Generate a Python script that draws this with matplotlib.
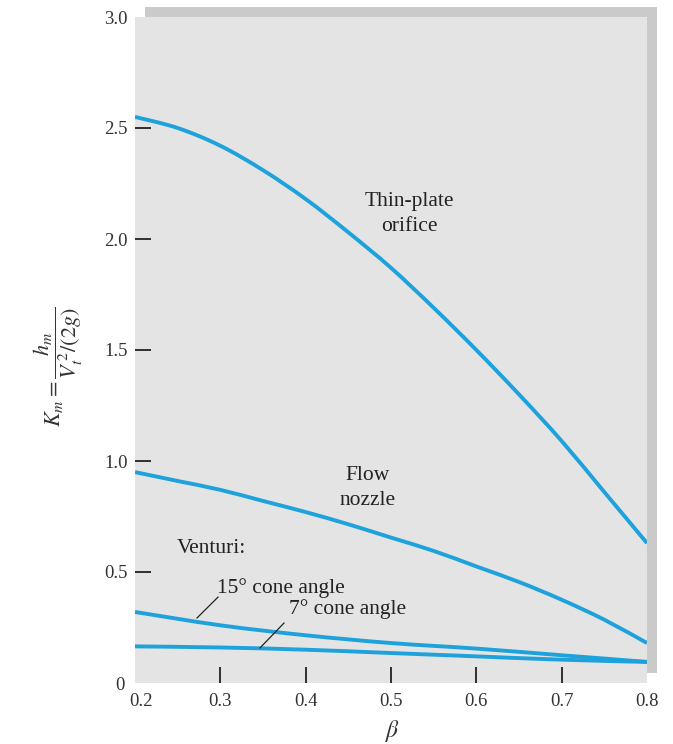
import matplotlib
matplotlib.use("Agg")
import matplotlib.pyplot as plt
import matplotlib.transforms as mtransforms
from matplotlib.patches import Rectangle, PathPatch
from matplotlib.path import Path

plt.rcParams['font.family'] = ['Liberation Serif', 'DejaVu Serif']
plt.rcParams['mathtext.fontset'] = 'stix'

beta_fine = [0.2, 0.25, 0.3, 0.35, 0.4, 0.45, 0.5, 0.55, 0.6, 0.65, 0.7, 0.75, 0.8]
thin_plate = [2.55, 2.50, 2.42, 2.31, 2.18, 2.03, 1.87, 1.69, 1.50, 1.30, 1.09, 0.86, 0.63]
flow_nozzle = [0.95, 0.91, 0.87, 0.82, 0.77, 0.715, 0.655, 0.595, 0.525, 0.455, 0.375, 0.285, 0.18]
beta_coarse = [0.2, 0.3, 0.4, 0.5, 0.6, 0.7, 0.8]
venturi_15 = [0.32, 0.26, 0.215, 0.18, 0.155, 0.125, 0.095]
venturi_7 = [0.165, 0.16, 0.15, 0.135, 0.12, 0.105, 0.095]

xticks = [0.2, 0.3, 0.4, 0.5, 0.6, 0.7, 0.8]
xticklabels = ['0.2', '0.3', '0.4', '0.5', '0.6', '0.7', '0.8']
yticks = [0, 0.5, 1.0, 1.5, 2.0, 2.5, 3.0]
yticklabels = ['0', '0.5', '1.0', '1.5', '2.0', '2.5', '3.0']


def smooth_path(xs, ys):
    """Catmull-Rom spline through the data points, as cubic Bezier path."""
    pts = list(zip(xs, ys))
    n = len(pts)
    verts = [pts[0]]
    codes = [Path.MOVETO]
    for i in range(n - 1):
        p0 = pts[i - 1] if i > 0 else pts[i]
        p1 = pts[i]
        p2 = pts[i + 1]
        p3 = pts[i + 2] if i + 2 < n else pts[i + 1]
        c1 = (p1[0] + (p2[0] - p0[0]) / 6, p1[1] + (p2[1] - p0[1]) / 6)
        c2 = (p2[0] - (p3[0] - p1[0]) / 6, p2[1] - (p3[1] - p1[1]) / 6)
        verts += [c1, c2, p2]
        codes += [Path.CURVE4] * 3
    return Path(verts, codes)


W, H = 673, 744
fig = plt.figure(figsize=(W / 100, H / 100), dpi=100)
left, right, top, bottom = 135, 647, 17, 683
ax = fig.add_axes([left / W, 1 - bottom / H, (right - left) / W, (bottom - top) / H])
ax.set_zorder(2)

shadow = Rectangle(((left + 10) / W, 1 - (bottom - 10) / H), (right - left) / W, (bottom - top) / H,
                   transform=fig.transFigure, facecolor='#cacaca', edgecolor='none', zorder=0)
fig.patches.append(shadow)

ax.set_facecolor('#e4e4e4')
for s in ax.spines.values():
    s.set_visible(False)

col = '#1ea2dc'
lw = 2.8
for xs, ys in [(beta_fine, thin_plate), (beta_fine, flow_nozzle),
               (beta_coarse, venturi_15), (beta_coarse, venturi_7)]:
    ax.add_patch(PathPatch(smooth_path(xs, ys), facecolor='none', edgecolor=col,
                           lw=lw, capstyle='butt', zorder=3))

ax.set_xlim(0.2, 0.8)
ax.set_ylim(0, 3.0)
ax.set_xticks(xticks)
ax.set_xticklabels(xticklabels)
ax.set_yticks(yticks)
ax.set_yticklabels(yticklabels)
ax.tick_params(axis='both', direction='in', length=11.5, width=1.2, color='#111111',
               labelsize=13.5, labelcolor='#333333')
ax.tick_params(axis='y', pad=5)
ax.tick_params(axis='x', pad=7)
for t in (ax.xaxis.get_major_ticks()[0], ax.xaxis.get_major_ticks()[-1]):
    t.tick1line.set_visible(False)
for t in (ax.yaxis.get_major_ticks()[0], ax.yaxis.get_major_ticks()[-1]):
    t.tick1line.set_visible(False)

fig.canvas.draw()
lbl02 = ax.xaxis.get_major_ticks()[0].label1
lbl02.set_transform(lbl02.get_transform() + mtransforms.ScaledTranslation(6 / 100, 0, fig.dpi_scale_trans))
lbl0 = ax.yaxis.get_major_ticks()[0].label1
lbl0.set_transform(lbl0.get_transform() + mtransforms.ScaledTranslation(-3 / 100, 0, fig.dpi_scale_trans))

txtkw = dict(fontsize=15.5, color='#222222')
ax.text(0.522, 2.113, 'Thin-plate\norifice', ha='center', va='center', linespacing=1.45, **txtkw)
ax.text(0.473, 0.878, 'Flow\nnozzle', ha='center', va='center', linespacing=1.4, **txtkw)
ax.text(0.249, 0.608, 'Venturi:', ha='left', va='center', **txtkw)
ax.text(0.296, 0.428, '15° cone angle', ha='left', va='center', **txtkw)
ax.text(0.3805, 0.333, '7° cone angle', ha='left', va='center', **txtkw)
ax.plot([0.2727, 0.2973], [0.293, 0.387], color='#222222', lw=0.9, zorder=4)
ax.plot([0.3465, 0.3746], [0.158, 0.270], color='#222222', lw=0.9, zorder=4)

fig.text(393 / W, 1 - 731 / H, r'$\beta$', ha='center', va='center', fontsize=17, color='#333333')
fig.text(58 / W, 1 - 367 / H, r'$K_m = \dfrac{h_m}{V_t^{\,2}/(2g)}$', ha='center', va='center',
         rotation=90, fontsize=16, color='#333333')

fig.savefig('out.png', dpi=100, facecolor='white')
